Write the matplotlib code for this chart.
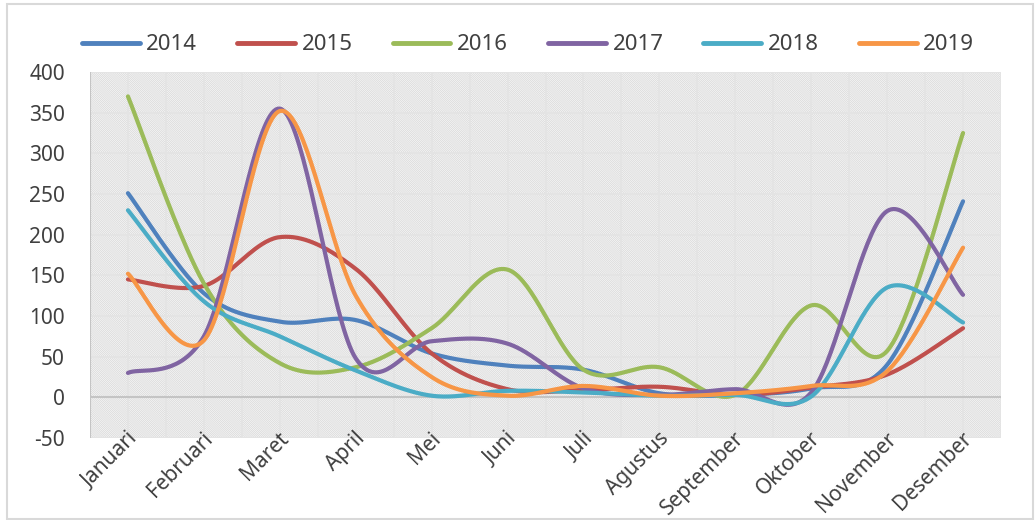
import numpy as np
import matplotlib
matplotlib.use("Agg")
import matplotlib.pyplot as plt
from matplotlib.patches import Rectangle
from matplotlib.transforms import ScaledTranslation

months = ["Januari", "Februari", "Maret", "April", "Mei", "Juni", "Juli",
          "Agustus", "September", "Oktober", "November", "Desember"]
y2014 = [251, 128, 93, 95, 54, 39, 34, 5, 3, 11, 40, 241]
y2015 = [145, 137, 197, 158, 54, 10, 9, 13, 3, 12, 28, 85]
y2016 = [370, 140, 42, 37, 85, 157, 34, 37, 3, 113, 57, 325]
y2017 = [30, 75, 355, 48, 69, 66, 11, 3, 10, 6, 229, 126]
y2018 = [230, 118, 75, 33, 2, 8, 6, 2, 3, 1, 135, 92]
y2019 = [152, 70, 352, 125, 25, 2, 14, 2, 5, 14, 32, 184]
series_names = ["2014", "2015", "2016", "2017", "2018", "2019"]
yticks = [-50, 0, 50, 100, 150, 200, 250, 300, 350, 400]

colors = ["#4F81BD", "#C0504D", "#9BBB59", "#8064A2", "#4BACC6", "#F79646"]

plt.rcParams['font.family'] = ['Noto Sans', 'DejaVu Sans']
plt.rcParams['hatch.linewidth'] = 0.7


def smooth(xs, ys, n=40):
    xs = np.asarray(xs, float)
    ys = np.asarray(ys, float)
    P = np.column_stack([xs, ys])
    Pe = np.vstack([P[0], P, P[-1]])
    out = []
    t = np.linspace(0, 1, n)[:, None]
    for i in range(len(P) - 1):
        p0, p1, p2, p3 = Pe[i], Pe[i + 1], Pe[i + 2], Pe[i + 3]
        c1 = p1 + (p2 - p0) / 6.0
        c2 = p2 - (p3 - p1) / 6.0
        seg = ((1 - t) ** 3) * p1 + 3 * ((1 - t) ** 2) * t * c1 + 3 * (1 - t) * t ** 2 * c2 + t ** 3 * p2
        out.append(seg if i == 0 else seg[1:])
    out = np.vstack(out)
    return out[:, 0], out[:, 1]


fig = plt.figure(figsize=(10.35, 5.2), dpi=100)
ax = fig.add_axes([90 / 1035, 1 - 438 / 520, 911 / 1035, 366 / 520])

# figure border
fig.patches.append(Rectangle((7 / 1035, 1 / 520), 1026 / 1035, 515 / 520,
                             transform=fig.transFigure, fill=False,
                             edgecolor="#d9d9d9", lw=1.5))

ax.set_xlim(-0.5, 11.5)
ax.set_ylim(-50, 400)

# hatched background
ax.add_patch(Rectangle((0, 0), 1, 1, transform=ax.transAxes, facecolor="white",
                       edgecolor="#dcdcdc", hatch="\\" * 16, lw=0, zorder=0))

# gridlines
for gx in np.arange(-0.5, 11.6, 0.5):
    ax.axvline(gx, color="#e4e4e4", lw=1.3, zorder=1)
for gy in yticks:
    ax.axhline(gy, color="#e4e4e4", lw=1.3, zorder=1)
ax.axhline(0, color="#c4c4c4", lw=1.5, zorder=2)
ax.axvline(-0.5, color="#c4c4c4", lw=1.5, zorder=2)

xs = np.arange(len(months))
data = [y2014, y2015, y2016, y2017, y2018, y2019]
for name, ys, c in zip(series_names, data, colors):
    sx, sy = smooth(xs, ys)
    ax.plot(sx, sy, color=c, lw=3, solid_capstyle="round", label=name, zorder=3)

for s in ax.spines.values():
    s.set_visible(False)

ax.set_yticks(yticks)
ax.set_yticklabels([str(v) for v in yticks])
ax.set_xticks(xs)
ax.set_xticklabels(months, rotation=45, ha="right", va="baseline", rotation_mode="anchor")
ax.tick_params(axis="y", length=0, pad=18, labelsize=15, labelcolor="#404040")
ax.tick_params(axis="x", length=0, pad=1, labelsize=15, labelcolor="#404040")
off = ScaledTranslation(10 / 100, 0, fig.dpi_scale_trans)
for lab in ax.get_xticklabels():
    lab.set_transform(lab.get_transform() + off)

leg = fig.legend(loc="center", bbox_to_anchor=(528 / 1035, 1 - 45 / 520), ncol=6,
                 frameon=False, fontsize=16, handlelength=2.6, handletextpad=0.3,
                 columnspacing=1.8, labelcolor="#404040")
for h in leg.get_lines():
    h.set_linewidth(3.5)

fig.savefig("out.png", dpi=100)
